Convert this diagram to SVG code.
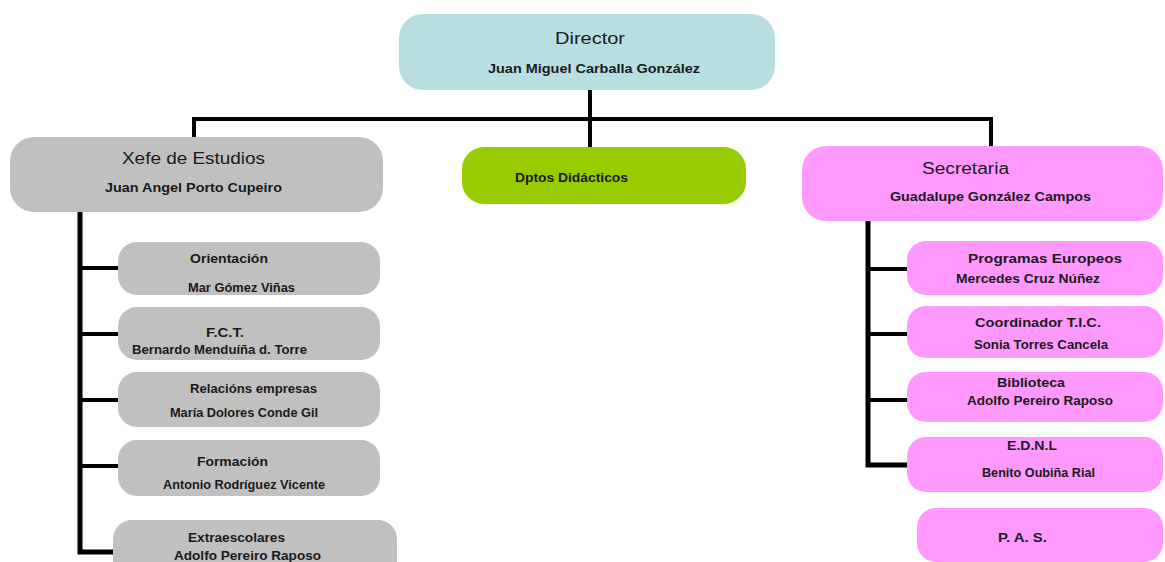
<svg xmlns="http://www.w3.org/2000/svg" width="1165" height="562" viewBox="0 0 1165 562">
<style>
text{font-family:"Liberation Sans",Arial,sans-serif;fill:#1a1a1a;}
.t{font-size:16px;}
.n{font-size:13px;font-weight:bold;}
.c{font-size:13.5px;font-weight:bold;}
.m{text-anchor:middle;}
.gray{fill:#c0c0c0;}
.pink{fill:#ff99ff;}
.blue{fill:#b8dee2;}
.green{fill:#99cc00;}
.ln{stroke:#000;fill:none;stroke-linecap:square;}
</style>
<rect width="1165" height="562" fill="#fff"/>
<g id="connectors">
<path class="ln" stroke-width="4" d="M194 121 V119 H991 V146"/>
<path class="ln" stroke-width="4" d="M194 119 V137"/>
<path class="ln" stroke-width="4" d="M590 90 V147"/>
<path class="ln" stroke-width="5" d="M80 212 V552 H113"/>
<path class="ln" stroke-width="4" d="M80 268 H118 M80 334 H118 M80 400 H118 M80 466 H118"/>
<path class="ln" stroke-width="5" d="M868 221 V465 H907"/>
<path class="ln" stroke-width="4" d="M868 269 H907 M868 334 H907 M868 400 H907"/>
</g>
<g id="director">
<rect class="blue" x="399" y="14" width="376" height="76" rx="24"/>
<text class="t m" x="590" y="44" textLength="70" lengthAdjust="spacingAndGlyphs">Director</text>
<text class="n m" x="594" y="73" textLength="212" lengthAdjust="spacingAndGlyphs">Juan Miguel Carballa González</text>
</g>
<g id="xefe">
<rect class="gray" x="10" y="137" width="373" height="75" rx="24"/>
<text class="t m" x="193.5" y="164" textLength="143" lengthAdjust="spacingAndGlyphs">Xefe de Estudios</text>
<text class="n m" x="193.5" y="192" textLength="177" lengthAdjust="spacingAndGlyphs">Juan Angel Porto Cupeiro</text>
</g>
<g id="dptos">
<rect class="green" x="462" y="147" width="284" height="57" rx="22"/>
<text class="n" x="515" y="182" textLength="113" lengthAdjust="spacingAndGlyphs">Dptos Didácticos</text>
</g>
<g id="secretaria">
<rect class="pink" x="802" y="146" width="361" height="75" rx="24"/>
<text class="t" x="922" y="174" textLength="87" lengthAdjust="spacingAndGlyphs">Secretaria</text>
<text class="n" x="890" y="201" textLength="201" lengthAdjust="spacingAndGlyphs">Guadalupe González Campos</text>
</g>
<g id="orientacion">
<rect class="gray" x="118" y="242" width="262" height="53" rx="19"/>
<text class="c" x="190" y="263" textLength="78" lengthAdjust="spacingAndGlyphs">Orientación</text>
<text class="c" x="188" y="292" textLength="107" lengthAdjust="spacingAndGlyphs">Mar Gómez Viñas</text>
</g>
<g id="fct">
<rect class="gray" x="118" y="307" width="262" height="53" rx="19"/>
<text class="c" x="206" y="337" textLength="38" lengthAdjust="spacingAndGlyphs">F.C.T.</text>
<text class="c" x="132" y="354" textLength="175" lengthAdjust="spacingAndGlyphs">Bernardo Menduíña d. Torre</text>
</g>
<g id="relacions">
<rect class="gray" x="118" y="372" width="262" height="55" rx="19"/>
<text class="c" x="190" y="393" textLength="127" lengthAdjust="spacingAndGlyphs">Relacións empresas</text>
<text class="c" x="170" y="417" textLength="148" lengthAdjust="spacingAndGlyphs">María Dolores Conde Gil</text>
</g>
<g id="formacion">
<rect class="gray" x="118" y="440" width="262" height="56" rx="19"/>
<text class="c" x="197" y="466" textLength="71" lengthAdjust="spacingAndGlyphs">Formación</text>
<text class="c" x="163" y="489" textLength="162" lengthAdjust="spacingAndGlyphs">Antonio Rodríguez Vicente</text>
</g>
<g id="extraescolares">
<rect class="gray" x="113" y="520" width="284" height="60" rx="19"/>
<text class="c" x="188" y="542" textLength="97" lengthAdjust="spacingAndGlyphs">Extraescolares</text>
<text class="c" x="174" y="560" textLength="147" lengthAdjust="spacingAndGlyphs">Adolfo Pereiro Raposo</text>
</g>
<g id="programas">
<rect class="pink" x="907" y="241" width="256" height="54" rx="19"/>
<text class="c" x="968" y="263" textLength="154" lengthAdjust="spacingAndGlyphs">Programas Europeos</text>
<text class="c" x="956" y="283" textLength="144" lengthAdjust="spacingAndGlyphs">Mercedes Cruz Núñez</text>
</g>
<g id="coordinador">
<rect class="pink" x="907" y="306" width="256" height="52" rx="19"/>
<text class="c" x="975" y="327" textLength="126" lengthAdjust="spacingAndGlyphs">Coordinador T.I.C.</text>
<text class="c" x="974" y="349" textLength="134" lengthAdjust="spacingAndGlyphs">Sonia Torres Cancela</text>
</g>
<g id="biblioteca">
<rect class="pink" x="907" y="372" width="256" height="50" rx="19"/>
<text class="c" x="997" y="387" textLength="68" lengthAdjust="spacingAndGlyphs">Biblioteca</text>
<text class="c" x="967" y="405" textLength="146" lengthAdjust="spacingAndGlyphs">Adolfo Pereiro Raposo</text>
</g>
<g id="ednl">
<rect class="pink" x="907" y="437" width="256" height="55" rx="19"/>
<text class="c" x="1007" y="450" textLength="50" lengthAdjust="spacingAndGlyphs">E.D.N.L</text>
<text class="c" x="982" y="477" textLength="113" lengthAdjust="spacingAndGlyphs">Benito Oubiña Rial</text>
</g>
<g id="pas">
<rect class="pink" x="917" y="508" width="246" height="54" rx="19"/>
<text class="c" x="998" y="542" textLength="49" lengthAdjust="spacingAndGlyphs">P. A. S.</text>
</g>
</svg>
